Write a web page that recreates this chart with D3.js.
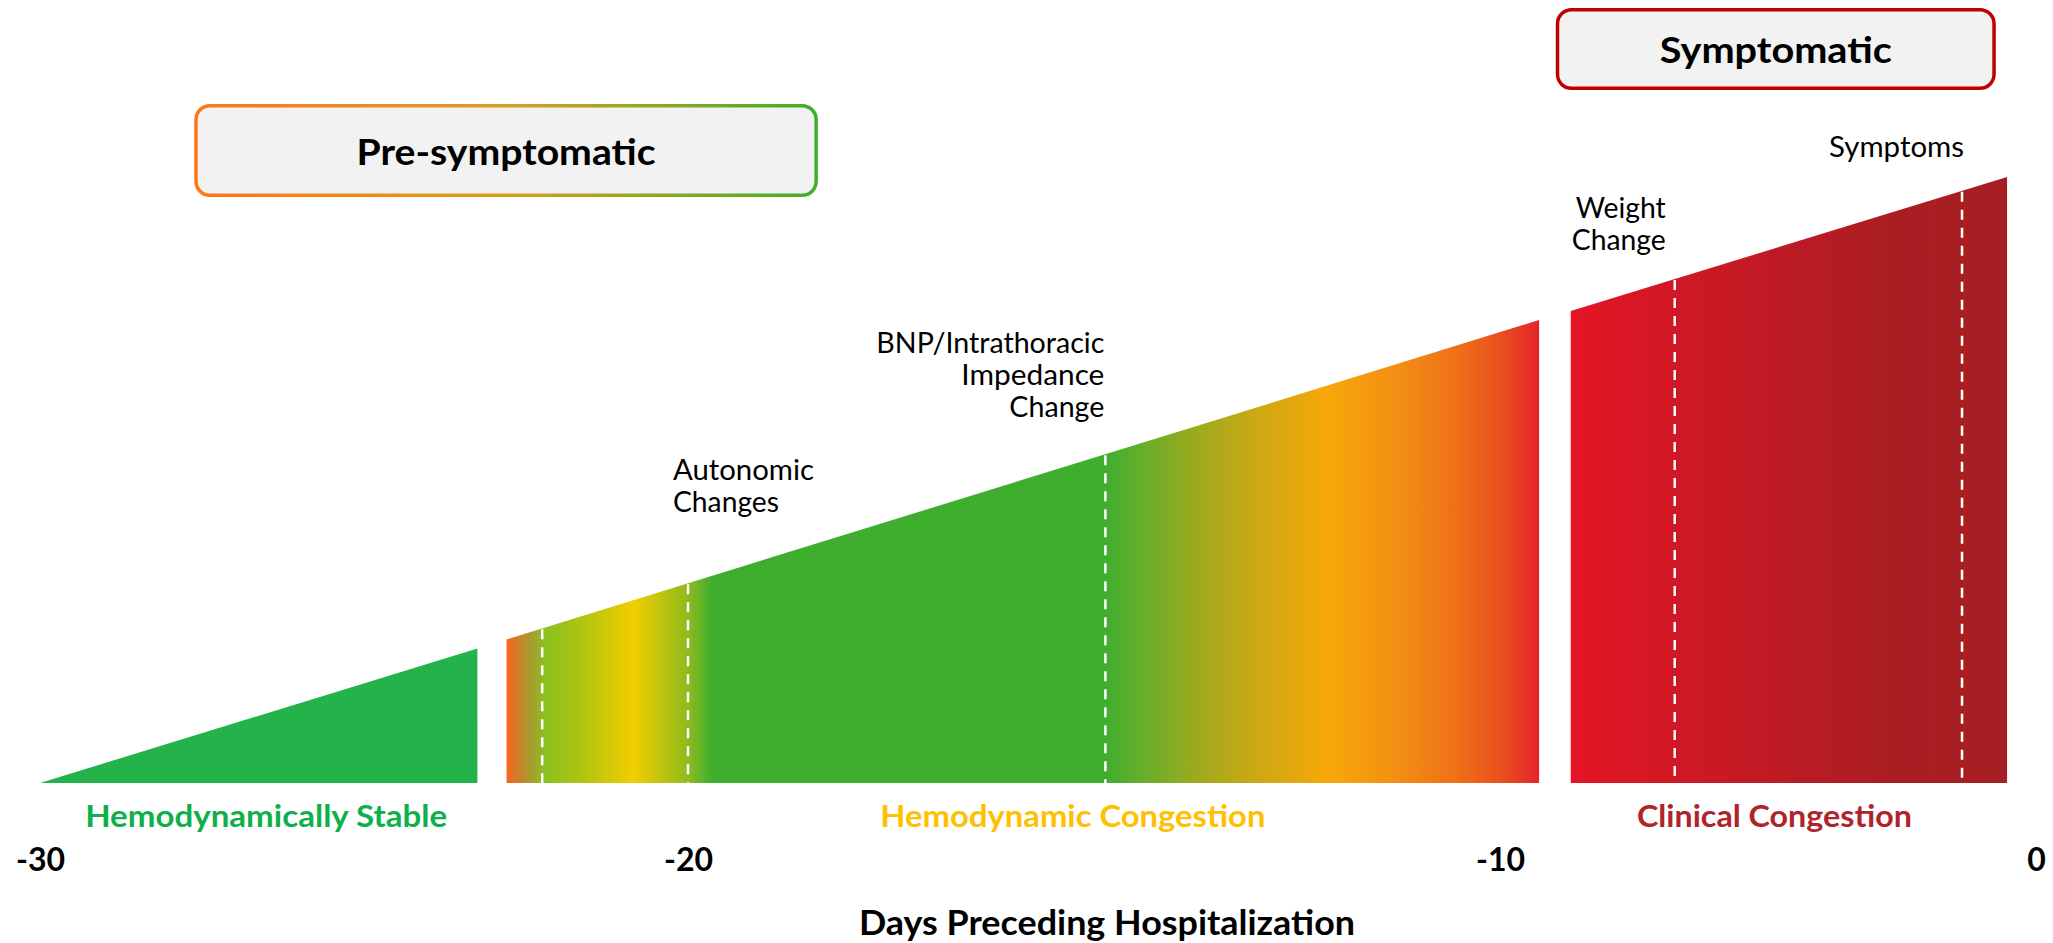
<!DOCTYPE html>
<html>
<head>
<meta charset="utf-8">
<script src="https://cdn.jsdelivr.net/npm/d3@7"></script>
<style>
  html, body { margin: 0; padding: 0; background: #ffffff; }
  svg { display: block; }
</style>
</head>
<body>
<svg id="chart" width="2053" height="943"></svg>
<script>
// ---- Data -------------------------------------------------------------
// Axis ticks: days preceding hospitalization
const tickDays = [-30, -20, -10, 0];
const tickLabels = ["-30", "-20", "-10", "0"];

// Phases along the timeline (start/end day, congestion level at each end)
const phaseNames = ["Hemodynamically Stable", "Hemodynamic Congestion", "Clinical Congestion"];
const phaseStart = [-30, -22.8, -8.68];
const phaseEnd = [-23.25, -9.27, -0.54];
const phaseStartLevel = [0, 23.7, 77.9];
const phaseEndLevel = [22.2, 76.4, 100];
const phaseLabelDay = [-26.51, -15.26, -4.88];

// Detectable events (dashed markers) and their captions
const eventDays = [-22.25, -20, -14.86, -6.74, -1.38];
const eventLabels = [
  [],
  ["Autonomic", "Changes"],
  ["BNP/Intrathoracic", "Impedance", "Change"],
  ["Weight", "Change"],
  ["Symptoms"]
];

// Stage headers spanning the timeline
const stageNames = ["Pre-symptomatic", "Symptomatic"];
const stageStart = [-27.62, -8.96];
const stageEnd = [-18.40, -0.75];

const axisTitle = "Days Preceding Hospitalization";

// ---- Layout & style ---------------------------------------------------
const FONT = "Lato, 'Open Sans', 'Noto Sans', sans-serif";
const baseY = 783;
const svg = d3.select("#chart");

const x = d3.scaleLinear().domain(tickDays).range([40, 688, 1500, 2036]);
const y = d3.scaleLinear().domain([0, 100]).range([baseY, 177]);

const phaseFill = [
  { solid: "#24b24b" },
  { stops: [
      [0, "#f7651e"], [0.023, "#a89a30"], [0.038, "#8cc21e"], [0.072, "#aec412"],
      [0.123, "#f2ce00"], [0.176, "#8fba1e"], [0.199, "#3fae2f"], [0.580, "#3fae2f"],
      [0.623, "#6eae28"], [0.672, "#a0aa1e"], [0.720, "#c8a815"], [0.795, "#f8a808"],
      [0.865, "#f28e14"], [0.923, "#ee6e18"], [0.962, "#ea501e"], [1, "#e4242a"]
  ] },
  { stops: [[0, "#e41524"], [0.5, "#bc1b24"], [0.73, "#aa1e22"], [1, "#a61f22"]] }
];
const phaseLabelColor = ["#0fb04b", "#ffc000", "#b0232b"];
const phaseLabelWidth = [362, 385, 275];

const eventLabelLayout = [
  null,
  { anchor: "start", dx: -15, y0: 480, widths: [141, 106] },
  { anchor: "end", dx: -1, y0: 353, widths: [228, 143, 95] },
  { anchor: "end", dx: -9, y0: 218, widths: [90, 94] },
  { anchor: "end", dx: 2, y0: 157, widths: [135] }
];
const lineGap = 32;

const stageLayout = [
  { top: 104, bottom: 197, baseline: 165, width: 299, stroke: "url(#stageGrad0)" },
  { top: 8, bottom: 90, baseline: 63, width: 232, stroke: "#c00000" }
];

const defs = svg.append("defs");

function fitText(sel, w) {
  if (w) sel.attr("textLength", w).attr("lengthAdjust", "spacingAndGlyphs");
  return sel;
}

// ---- Phase shapes -----------------------------------------------------
const area = d3.line();
phaseNames.forEach((name, i) => {
  const x0 = x(phaseStart[i]), x1 = x(phaseEnd[i]);
  let fill = phaseFill[i].solid;
  if (!fill) {
    const g = defs.append("linearGradient")
      .attr("id", "phaseGrad" + i)
      .attr("gradientUnits", "userSpaceOnUse")
      .attr("x1", x0).attr("x2", x1).attr("y1", 0).attr("y2", 0);
    phaseFill[i].stops.forEach(s => g.append("stop").attr("offset", s[0]).attr("stop-color", s[1]));
    fill = "url(#phaseGrad" + i + ")";
  }
  const pts = [
    [x0, y(0)], [x0, y(phaseStartLevel[i])],
    [x1, y(phaseEndLevel[i])], [x1, y(0)]
  ];
  svg.append("path").attr("d", area(pts) + "Z").attr("fill", fill);

  fitText(svg.append("text")
    .attr("x", x(phaseLabelDay[i])).attr("y", 827)
    .attr("text-anchor", "middle")
    .attr("font-family", FONT).attr("font-weight", 700).attr("font-size", 31)
    .attr("fill", phaseLabelColor[i])
    .text(name), phaseLabelWidth[i]);
});

// ---- Event markers ----------------------------------------------------
function topAt(day) {
  const i = phaseNames.findIndex((_, k) => day >= phaseStart[k] && day <= phaseEnd[k]);
  const x0 = x(phaseStart[i]), x1 = x(phaseEnd[i]);
  const t = (x(day) - x0) / (x1 - x0);
  return y(phaseStartLevel[i]) + t * (y(phaseEndLevel[i]) - y(phaseStartLevel[i]));
}

eventDays.forEach((d, i) => {
  const px = x(d);
  svg.append("line")
    .attr("x1", px).attr("x2", px)
    .attr("y1", topAt(d) + 1).attr("y2", baseY)
    .attr("stroke", "#ffffff").attr("stroke-width", 2.5)
    .attr("stroke-dasharray", "10,8");

  const lay = eventLabelLayout[i];
  if (!lay) return;
  eventLabels[i].forEach((line, j) => {
    fitText(svg.append("text")
      .attr("x", px + lay.dx).attr("y", lay.y0 + j * lineGap)
      .attr("text-anchor", lay.anchor)
      .attr("font-family", FONT).attr("font-weight", 400).attr("font-size", 28)
      .attr("fill", "#000000")
      .text(line), lay.widths[j]);
  });
});

// ---- Stage headers ----------------------------------------------------
const sg = defs.append("linearGradient")
  .attr("id", "stageGrad0")
  .attr("gradientUnits", "userSpaceOnUse")
  .attr("x1", x(stageStart[0])).attr("x2", x(stageEnd[0])).attr("y1", 0).attr("y2", 0);
[[0, "#ff7518"], [0.5, "#d9a01e"], [1, "#3fae2a"]]
  .forEach(s => sg.append("stop").attr("offset", s[0]).attr("stop-color", s[1]));

stageNames.forEach((name, i) => {
  const lay = stageLayout[i];
  const sw = 3.5;
  const x0 = x(stageStart[i]), x1 = x(stageEnd[i]);
  svg.append("rect")
    .attr("x", x0 + sw / 2).attr("y", lay.top + sw / 2)
    .attr("width", x1 - x0 - sw).attr("height", lay.bottom - lay.top - sw)
    .attr("rx", 14).attr("ry", 14)
    .attr("fill", "#f2f2f2")
    .attr("stroke", lay.stroke).attr("stroke-width", sw);
  fitText(svg.append("text")
    .attr("x", (x0 + x1) / 2).attr("y", lay.baseline)
    .attr("text-anchor", "middle")
    .attr("font-family", FONT).attr("font-weight", 700).attr("font-size", 37)
    .attr("fill", "#000000")
    .text(name), lay.width);
});

// ---- Axis -------------------------------------------------------------
const axis = d3.axisBottom(x)
  .tickValues(tickDays)
  .tickFormat((d, i) => tickLabels[i])
  .tickSize(0)
  .tickPadding(0);
const axisG = svg.append("g").attr("transform", "translate(0,871)").call(axis);
axisG.select(".domain").remove();
axisG.selectAll("text")
  .attr("y", 0).attr("dy", 0)
  .attr("font-family", FONT).attr("font-weight", 700).attr("font-size", 32)
  .attr("fill", "#000000");

fitText(svg.append("text")
  .attr("x", 1107).attr("y", 935)
  .attr("text-anchor", "middle")
  .attr("font-family", FONT).attr("font-weight", 700).attr("font-size", 35)
  .attr("fill", "#000000")
  .text(axisTitle), 496);
</script>
</body>
</html>
